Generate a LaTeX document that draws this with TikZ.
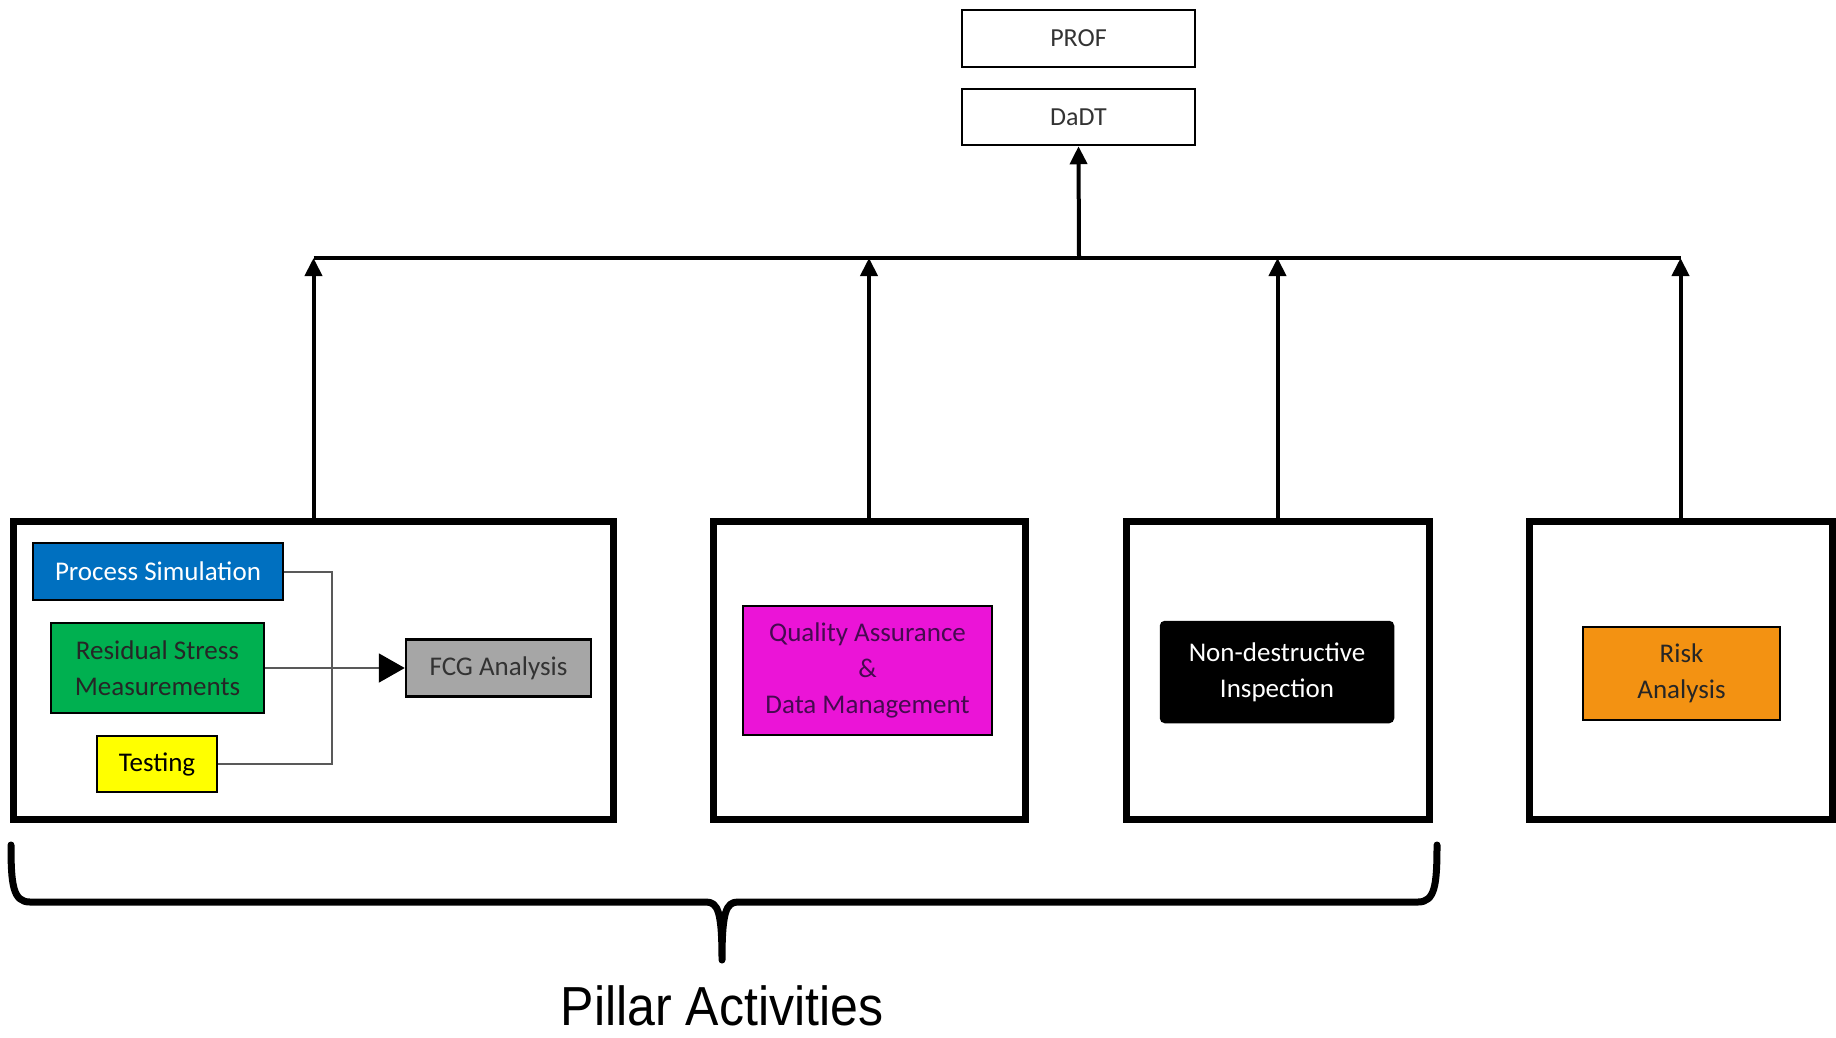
\documentclass[tikz,border=0pt]{standalone}
\usepackage{fontspec}
\setmainfont{Carlito}
\newfontfamily\labelfont{Liberation Sans}
\usetikzlibrary{arrows.meta}
\definecolor{psblue}{RGB}{0,112,192}
\definecolor{rsgreen}{RGB}{0,176,80}
\definecolor{tstyellow}{RGB}{255,255,0}
\definecolor{fcggray}{RGB}{166,166,166}
\definecolor{qamagenta}{RGB}{235,20,215}
\definecolor{qatext}{RGB}{70,10,80}
\definecolor{riskorange}{RGB}{243,146,18}

\begin{document}
\begin{tikzpicture}
  [x=1pt,y=-1pt,
   every node/.style={font=\fontsize{27}{36}\selectfont,align=center,inner sep=0pt},
   pillar/.style={draw,line width=7pt,minimum height=298pt},
   task/.style={draw,line width=2.5pt},
   top/.style={draw,line width=2.5pt,minimum width=233pt,text=black!80,
               font=\fontsize{26}{30}\selectfont},
   link/.style={draw=black!65,line width=2pt},
   up/.style={line width=4pt,-{Triangle[length=18pt,width=17pt]}}]
  \useasboundingbox (0,0) rectangle (1836,1037);

  \node[top,minimum height=57pt] (prof) at (1078.5,38.5) {PROF};
  \node[top,minimum height=56pt] (dadt) at (1078.5,117) {DaDT};

  \node[pillar,minimum width=600pt] (p1) at (313.5,670) {};
  \node[pillar,minimum width=312pt] (p2) at (869,670) {};
  \node[pillar,minimum width=303pt] (p3) at (1277.5,670) {};
  \node[pillar,minimum width=303pt] (p4) at (1680.5,670) {};

  \node[task,fill=psblue,text=white,minimum width=250pt,minimum height=57pt] (ps) at (158,571.5) {Process Simulation};
  \node[task,fill=rsgreen,text=black!85,minimum width=213pt,minimum height=90pt] (rsm) at (157.5,668) {Residual Stress\\Measurements};
  \node[task,fill=tstyellow,minimum width=120pt,minimum height=56pt] (tst) at (157,764) {Testing};
  \node[task,fill=fcggray,text=black!80,minimum width=185pt,minimum height=57pt] (fcg) at (498.5,668) {FCG Analysis};
  \node[task,fill=qamagenta,text=qatext,minimum width=249pt,minimum height=129pt] (qa) at (867.5,670.5) {Quality Assurance\\\&\\Data Management};
  \node[task,fill=black,text=white,rounded corners=4pt,minimum width=232pt,minimum height=100pt] (ndi) at (1277,672) {Non-destructive\\Inspection};
  \node[task,fill=riskorange,text=black!85,minimum width=197pt,minimum height=93pt] (risk) at (1681.5,673.5) {Risk\\Analysis};

  \coordinate (bus) at (1079,258);
  \coordinate (jn) at (332,668);

  % feeds into FCG
  \draw[link] (ps.east) -| (jn) |- (tst.east);
  \draw[link,-{Triangle[length=26pt,width=29pt,color=black]}] (rsm.east) -- (fcg.west);

  % pillars up to DaDT
  \draw[line width=4pt] (p1.north |- bus) -- (p4.north |- bus);
  \foreach \pil in {p1,p2,p3,p4}
    \draw[up] (\pil.north) -- (\pil.north |- bus);
  \draw[up] (bus) -- (dadt.south);

  % brace
  \draw[line width=7pt,line cap=round,line join=round]
    (11,845) .. controls (11,885) and (13,902) .. (30,902) -- (706,902)
    .. controls (718,902) and (722,912) .. (722,960)
    .. controls (722,912) and (726,902) .. (738,902) -- (1418,902)
    .. controls (1435,902) and (1437,885) .. (1437,845);
  \node[font=\labelfont\fontsize{55}{60}\selectfont,anchor=base] (pa) at (722,1025) {\scalebox{0.91}[1]{Pillar Activities}};
\end{tikzpicture}
\end{document}
